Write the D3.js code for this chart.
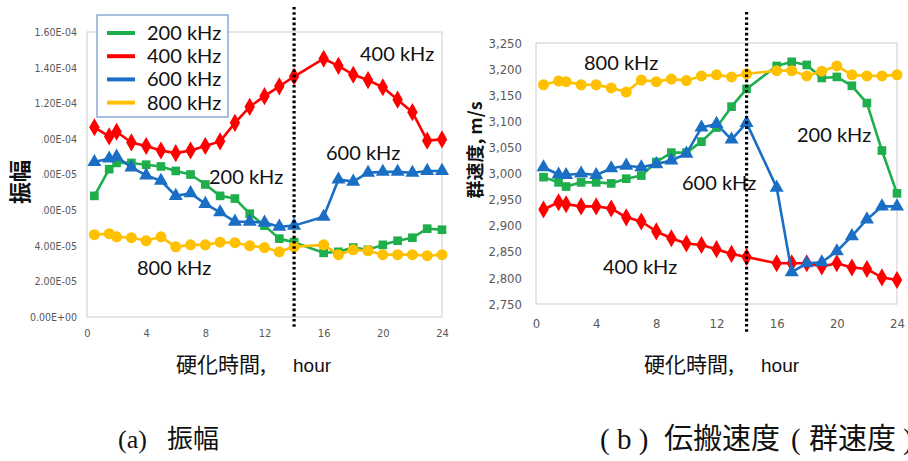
<!DOCTYPE html>
<html><head><meta charset="utf-8">
<script src="https://cdn.jsdelivr.net/npm/d3@7/dist/d3.min.js"></script>
<style>body{margin:0;background:#fff}svg{display:block}</style>
</head><body>
<svg id="c" width="908" height="461"></svg>
<script>
const hours = [0.5,1.5,2,3,4,5,6,7,8,9,10,11,12,13,14,16,17,18,19,20,21,22,23,24];
const seriesNames = ["200 kHz","400 kHz","600 kHz","800 kHz"];
// (a) amplitude
const amp200 = [6.8e-5,8.3e-5,8.65e-5,8.65e-5,8.55e-5,8.45e-5,8.2e-5,8.0e-5,7.44e-5,6.8e-5,6.65e-5,5.8e-5,5.13e-5,4.4e-5,4.2e-5,3.6e-5,3.66e-5,3.9e-5,3.77e-5,4.05e-5,4.28e-5,4.45e-5,4.96e-5,4.9e-5];
const amp400 = [10.65e-5,10.14e-5,10.4e-5,9.8e-5,9.6e-5,9.35e-5,9.2e-5,9.35e-5,9.6e-5,9.86e-5,10.9e-5,11.8e-5,12.4e-5,12.95e-5,13.5e-5,14.5e-5,14.1e-5,13.6e-5,13.3e-5,12.9e-5,12.2e-5,11.5e-5,9.9e-5,9.97e-5];
const amp600 = [8.7e-5,8.9e-5,9.0e-5,8.4e-5,7.95e-5,7.65e-5,6.8e-5,6.95e-5,6.35e-5,5.88e-5,5.35e-5,5.35e-5,5.3e-5,5.07e-5,5.13e-5,5.63e-5,7.72e-5,7.6e-5,8.1e-5,8.15e-5,8.15e-5,8.1e-5,8.2e-5,8.2e-5];
const amp800 = [4.62e-5,4.68e-5,4.5e-5,4.45e-5,4.28e-5,4.5e-5,3.94e-5,4.05e-5,4.05e-5,4.2e-5,4.17e-5,4.0e-5,3.9e-5,3.66e-5,3.94e-5,4.05e-5,3.5e-5,3.77e-5,3.72e-5,3.5e-5,3.5e-5,3.5e-5,3.44e-5,3.5e-5];
const ampTicks = [0,2e-5,4e-5,6e-5,8e-5,1e-4,1.2e-4,1.4e-4,1.6e-4];
const ampTickLabels = ["0.00E+00","2.00E-05","4.00E-05","6.00E-05","8.00E-05","1.00E-04","1.20E-04","1.40E-04","1.60E-04"];
// (b) group velocity
const vel200 = [2993,2983,2975,2983,2983,2981,2990,2996,3022,3040,3040,3061,3088,3128,3162,3206,3214,3208,3183,3185,3168,3135,3044,2962];
const vel400 = [2931,2945,2941,2937,2937,2933,2916,2908,2889,2876,2866,2863,2855,2846,2840,2828,2828,2828,2822,2828,2820,2817,2801,2796];
const vel600 = [3012,2998,2997,3000,2997,3010,3015,3012,3018,3025,3038,3088,3095,3065,3097,2973,2811,2828,2830,2851,2880,2912,2937,2937];
const vel800 = [3170,3177,3176,3170,3170,3164,3156,3179,3176,3181,3178,3187,3189,3185,3191,3197,3197,3187,3196,3206,3189,3187,3187,3189];
const velTicks = [2750,2800,2850,2900,2950,3000,3050,3100,3150,3200,3250];
const xTicks = [0,4,8,12,16,20,24];
const markerTime = 14;

const colors = ["#1fae4c","#ff0000","#1a6fc4","#ffc000"];
const symbols = [d3.symbolSquare, d3.symbolDiamond, d3.symbolTriangle, d3.symbolCircle];
const symSizes = [75, 95, 85, 95];

const svg = d3.select("#c");
const cjk = "'Noto Sans CJK JP','Noto Sans CJK SC',sans-serif";
const lbl = "Lato,'Open Sans',sans-serif";

function drawPanel(o){
  const x = d3.scaleLinear().domain([0,24]).range([o.x0,o.x1]);
  const y = d3.scaleLinear().domain(o.ydom).range([o.y0,o.y1]);
  const g = svg.append("g");
  g.append("rect").attr("x",o.x0).attr("y",o.y1).attr("width",o.x1-o.x0).attr("height",o.y0-o.y1)
    .attr("fill","none").attr("stroke","#d4d4d4").attr("stroke-width",1.2);
  const ya = d3.axisLeft(y).tickValues(o.yticks).tickSize(0).tickPadding(o.ypad).tickFormat(o.yfmt);
  const yg = g.append("g").attr("transform",`translate(${o.x0},0)`).call(ya);
  yg.select(".domain").remove();
  yg.selectAll("text").attr("font-family","'DejaVu Sans Condensed','DejaVu Sans',sans-serif").attr("font-size",o.yfs).attr("fill","#595959");
  const xa = d3.axisBottom(x).tickValues(xTicks).tickSize(0).tickPadding(o.xpad).tickFormat(d3.format("d"));
  const xg = g.append("g").attr("transform",`translate(0,${o.y0})`).call(xa);
  xg.select(".domain").remove();
  xg.selectAll("text").attr("font-family","'DejaVu Sans Condensed','DejaVu Sans',sans-serif").attr("font-size",o.xfs).attr("fill","#595959");
  const line = d3.line().x((d,i)=>x(hours[i])).y(d=>y(d));
  o.series.forEach((s,k)=>{
    const idx = o.order[k];
    g.append("path").datum(o.series[idx]).attr("d",line).attr("fill","none")
      .attr("stroke",colors[idx]).attr("stroke-width",2.6).attr("stroke-linejoin","round");
    g.selectAll(null).data(o.series[idx]).enter().append("path")
      .attr("d",d3.symbol().type(symbols[idx]).size(symSizes[idx]))
      .attr("transform",(d,i)=>`translate(${x(hours[i])},${y(d)})`)
      .attr("fill",colors[idx]);
  });
  g.append("line").attr("x1",x(markerTime)).attr("x2",x(markerTime)).attr("y1",o.dotTop).attr("y2",o.dotBot)
    .attr("stroke","#000").attr("stroke-width",3.2).attr("stroke-dasharray","2.6,2.6");
  o.notes.forEach(n=>{
    g.append("text").attr("x",n[1]).attr("y",n[2]).attr("font-family",lbl).attr("font-size",20)
      .attr("fill","#111").text(n[0]);
  });
  return {x,y,g};
}

drawPanel({
  x0:87,x1:442,y0:317,y1:32,ydom:[0,1.6e-4],yticks:ampTicks,
  yfmt:(d,i)=>ampTickLabels[i], ypad:10, yfs:10.5, xpad:12, xfs:11,
  series:[amp200,amp400,amp600,amp800], order:[0,1,2,3],
  dotTop:7, dotBot:328,
  notes:[["400 kHz",360,61],["600 kHz",326,160],["200 kHz",209,184],["800 kHz",137,275]]
});
drawPanel({
  x0:536,x1:897,y0:304,y1:43,ydom:[2750,3250],yticks:velTicks,
  yfmt:d3.format(","), ypad:14, yfs:13, xpad:15, xfs:13,
  series:[vel200,vel400,vel600,vel800], order:[0,1,2,3],
  dotTop:12, dotBot:333,
  notes:[["800 kHz",584,70],["200 kHz",797,142],["600 kHz",682,190],["400 kHz",603,274]]
});

// legend (a)
const lg = svg.append("g");
lg.append("rect").attr("x",97).attr("y",15).attr("width",131).attr("height",102)
  .attr("fill","#fff").attr("stroke","#8fa9d4").attr("stroke-width",1.5);
seriesNames.forEach((nm,i)=>{
  const yy = 33 + i*23.2;
  lg.append("line").attr("x1",107).attr("x2",135).attr("y1",yy).attr("y2",yy)
    .attr("stroke",colors[i]).attr("stroke-width",4);
  lg.append("text").attr("x",147).attr("y",yy+7).attr("font-family",lbl).attr("font-size",20)
    .attr("fill","#111").text(nm);
});

// y titles
svg.append("rect").attr("x",0).attr("y",117).attr("width",42).attr("height",105).attr("fill","#fff");
svg.append("text").attr("transform","translate(28,182) rotate(-90)").attr("text-anchor","middle")
  .attr("font-family",cjk).attr("font-size",22).attr("font-weight",700).attr("fill","#111").text("振幅");
svg.append("text").attr("transform","translate(482,150) rotate(-90)").attr("text-anchor","middle")
  .attr("font-family",cjk).attr("font-size",18).attr("font-weight",700).attr("fill","#111").text("群速度, m/s");

// x titles
function xTitle(x0, y){
  const t = svg.append("text").attr("y",y).attr("fill","#111");
  t.append("tspan").attr("x",x0).attr("font-family",cjk).attr("font-size",21).text("硬化時間,");
  t.append("tspan").attr("x",x0+117).attr("font-family","'Liberation Sans',Arial,sans-serif").attr("font-size",19).text("hour");
}
xTitle(176,372);
xTitle(644,372);

// captions
const c1 = svg.append("text").attr("y",448).attr("fill","#111");
c1.append("tspan").attr("x",118).attr("font-family","'Liberation Serif',serif").attr("font-size",26).text("(a)");
c1.append("tspan").attr("x",167).attr("font-family",cjk).attr("font-size",26).text("振幅");
const c2 = svg.append("text").attr("y",449).attr("fill","#111");
c2.append("tspan").attr("x",600).attr("font-family","'Liberation Serif',serif").attr("font-size",29).text("( b )");
c2.append("tspan").attr("x",664).attr("font-family",cjk).attr("font-size",29).text("伝搬速度");
c2.append("tspan").attr("x",791).attr("font-family","'Liberation Serif',serif").attr("font-size",29).text("(");
c2.append("tspan").attr("x",809).attr("font-family",cjk).attr("font-size",29).text("群速度");
c2.append("tspan").attr("x",903).attr("font-family","'Liberation Serif',serif").attr("font-size",29).text(")");
</script>
</body></html>
